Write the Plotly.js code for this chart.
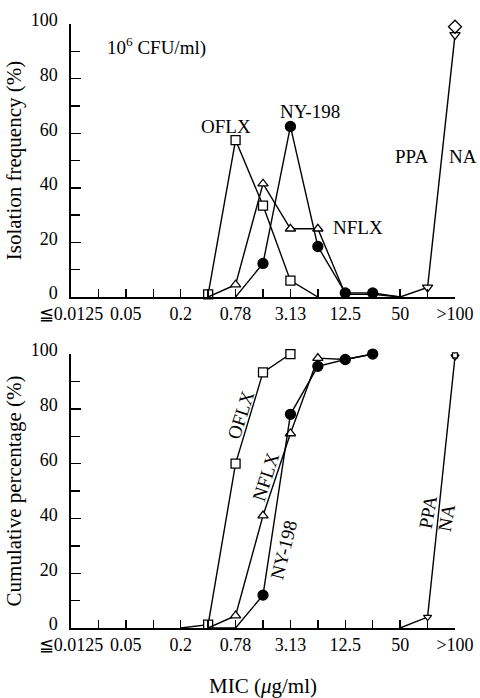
<!DOCTYPE html>
<html>
<head>
<meta charset="utf-8">
<script src="https://cdn.plot.ly/plotly-3.0.1.min.js"></script>
<style>
  html, body { margin: 0; padding: 0; background: #fff; }
  #chart { width: 480px; height: 698px; }
</style>
</head>
<body>
<div id="chart"></div>
<script>
// ---- categories (two-fold dilution series of MIC, µg/ml) ----
const MIC = ['≦0.0125','0.025','0.05','0.1','0.2','0.39','0.78','1.56','3.13','6.25','12.5','25','50','100','>100'];
const tickLabels = ['≦0.0125','0.05','0.2','0.78','3.13','12.5','50','>100'];

// ---- upper panel: isolation frequency (%) ----
const oflxFreqMIC = ['0.39','0.78','1.56','3.13','6.25'];
const oflxFreq    = [1, 57.5, 33.5, 6, 0];
const nflxFreqMIC = ['0.39','0.78','1.56','3.13','6.25','12.5','25','50'];
const nflxFreq    = [0, 4.5, 41.5, 25, 25, 1, 1, 0];
const nyFreqMIC   = ['0.78','1.56','3.13','6.25','12.5','25','50'];
const nyFreq      = [0, 12.3, 62.5, 18.5, 1.5, 1.5, 0];
const ppaFreqMIC  = ['50','100','>100'];
const ppaFreq     = [0, 3.5, 96];
const naFreqMIC   = ['>100'];
const naFreq      = [99];

// ---- lower panel: cumulative percentage (%) ----
const oflxCumMIC = ['0.2','0.39','0.78','1.56','3.13'];
const oflxCum    = [0, 1.2, 60, 93.3, 100];
const nflxCumMIC = ['0.39','0.78','1.56','3.13','6.25','12.5','25'];
const nflxCum    = [0, 4.5, 41, 71, 98.5, 98, 100];
const nyCumMIC   = ['0.39','0.78','1.56','3.13','6.25','12.5','25'];
const nyCum      = [0, 0, 12, 78, 95.5, 98, 100];
const ppaCumMIC  = ['50','100','>100'];
const ppaCum     = [0, 4, 99];
const naCumMIC   = ['>100'];
const naCum      = [99.5];

// ---- styling ----
const FONT = 'Liberation Serif, Times New Roman, serif';
const idx = m => MIC.indexOf(m);

// points drawn without a symbol (line vertices only)
const plainPoints = {
  oflxF: ['6.25'], nflxF: ['0.39','12.5','25','50'], nyF: ['0.78','50'], ppaF: ['50'],
  oflxC: ['0.2'], nflxC: ['0.39','12.5','25'], nyC: ['0.39','0.78'], ppaC: ['50']
};

function series(mics, vals, key, symbol, size, axis, fill) {
  const out = [];
  out.push({
    x: mics.map(idx), y: vals, xaxis: axis.x, yaxis: axis.y,
    mode: 'lines', type: 'scatter', cliponaxis: false,
    line: {color: '#000', width: 1.4}, hoverinfo: 'skip', showlegend: false
  });
  const skip = plainPoints[key] || [];
  const mx = [], my = [];
  mics.forEach((m, i) => { if (!skip.includes(m)) { mx.push(idx(m)); my.push(vals[i]); } });
  out.push({
    x: mx, y: my, xaxis: axis.x, yaxis: axis.y,
    mode: 'markers', type: 'scatter', cliponaxis: false,
    marker: {symbol: symbol, size: size, color: fill ? '#000' : '#fff',
             line: {color: '#000', width: 1.3}},
    hoverinfo: 'skip', showlegend: false
  });
  return out;
}

const upperAx = {x: 'x', y: 'y'};
const lowerAx = {x: 'x2', y: 'y2'};

const data = [].concat(
  series(oflxFreqMIC, oflxFreq, 'oflxF', 'square', 9, upperAx, false),
  series(nflxFreqMIC, nflxFreq, 'nflxF', 'triangle-up', 9, upperAx, false),
  series(nyFreqMIC, nyFreq, 'nyF', 'circle', 10, upperAx, true),
  series(ppaFreqMIC, ppaFreq, 'ppaF', 'triangle-down', 9, upperAx, false),
  series(naFreqMIC, naFreq, 'naF', 'diamond', 10, upperAx, false),
  series(oflxCumMIC, oflxCum, 'oflxC', 'square', 9, lowerAx, false),
  series(nflxCumMIC, nflxCum, 'nflxC', 'triangle-up', 9, lowerAx, false),
  series(nyCumMIC, nyCum, 'nyC', 'circle', 10, lowerAx, true),
  series(ppaCumMIC, ppaCum, 'ppaC', 'triangle-down', 7, lowerAx, false),
  series(naCumMIC, naCum, 'naC', 'square', 5, lowerAx, false)
);

const xTickVals = tickLabels.map(idx);

function xAxis(anchor) {
  return {
    anchor: anchor, range: [0, 14], showline: true, linecolor: '#000', linewidth: 1.6,
    ticks: 'inside', ticklen: 8, tickwidth: 1.4, tickcolor: '#000',
    tickvals: xTickVals, ticktext: tickLabels,
    minor: {tick0: 0, dtick: 1, ticks: 'inside', ticklen: 8, tickwidth: 1.4, tickcolor: '#000'},
    showgrid: false, zeroline: false, fixedrange: true,
    tickfont: {family: FONT, size: 18, color: '#000'}
  };
}
function yAxis(anchor, domain, title) {
  return {
    anchor: anchor, domain: domain, range: [0, 100], showline: true, linecolor: '#000', linewidth: 1.6,
    ticks: 'inside', ticklen: 10, tickwidth: 1.4, tickcolor: '#000',
    tickvals: [0, 20, 40, 60, 80, 100],
    ticklabelstandoff: 8, ticklabelshift: -4,
    minor: {tick0: 0, dtick: 10, ticks: 'inside', ticklen: 9, tickwidth: 1.4, tickcolor: '#000'},
    showgrid: false, zeroline: false, fixedrange: true,
    tickfont: {family: FONT, size: 18, color: '#000'},
    title: {text: title, font: {family: FONT, size: 21, color: '#000'}, standoff: 3}
  };
}

const ann = (text, x, y, ref, extra) => Object.assign({
  text: text, x: x, y: y, xref: ref.x, yref: ref.y, showarrow: false,
  font: {family: FONT, size: 19, color: '#000'}
}, extra || {});

const layout = {
  width: 480, height: 698,
  margin: {l: 71, r: 25, t: 24, b: 70},
  paper_bgcolor: '#fff', plot_bgcolor: '#fff',
  showlegend: false,
  xaxis: xAxis('y'),
  yaxis: yAxis('x', [0.548, 1], 'Isolation frequency (%)'),
  xaxis2: Object.assign(xAxis('y2'), {
    title: {text: 'MIC (<i>μ</i>g/ml)', font: {family: FONT, size: 21, color: '#000'}, standoff: 33}
  }),
  yaxis2: yAxis('x2', [0, 0.4536], 'Cumulative percentage (%)'),
  annotations: [
    ann('10<sup>6</sup> CFU/ml)', 1.24, 91.6, upperAx, {xanchor: 'left', font: {family: FONT, size: 19, color: '#000'}}),
    ann('OFLX', 5.65, 62.3, upperAx),
    ann('NY-198', 8.71, 67.8, upperAx),
    ann('NFLX', 10.46, 25.6, upperAx),
    ann('PPA', 12.43, 51.3, upperAx),
    ann('NA', 1.0625, 51.3, {x: 'paper', y: 'y'}, {xanchor: 'right'}),
    ann('OFLX', 6.2, 77.8, lowerAx, {textangle: -72}),
    ann('NFLX', 7.11, 55.2, lowerAx, {textangle: -72}),
    ann('NY-198', 7.77, 28.5, lowerAx, {textangle: -76}),
    ann('PPA', 13.0, 42.3, lowerAx, {textangle: -80}),
    ann('NA', 13.7, 40.2, lowerAx, {textangle: -80})
  ]
};

Plotly.newPlot('chart', data, layout, {staticPlot: true, displayModeBar: false});
</script>
</body>
</html>
